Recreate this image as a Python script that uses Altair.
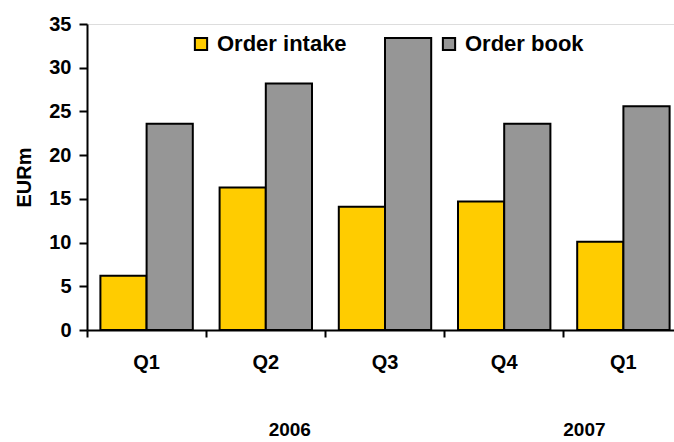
import altair as alt
import pandas as pd

quarters = ["Q1 2006", "Q2 2006", "Q3 2006", "Q4 2006", "Q1 2007"]
order_intake = [6.2, 16.3, 14.1, 14.7, 10.1]
order_book = [23.6, 28.2, 33.4, 23.6, 25.6]
series = ["Order intake", "Order book"]
colors = ["#FFCC00", "#969696"]
years = ["2006", "2007"]
year_anchor = ["Q2 2006", "Q1 2007"]
year_dx = [24, -39]

rows = []
for q, a, b in zip(quarters, order_intake, order_book):
    rows.append({"quarter": q, "series": series[0], "value": a})
    rows.append({"quarter": q, "series": series[1], "value": b})
df = pd.DataFrame(rows)
ydf = pd.DataFrame({"quarter": year_anchor, "year": years, "dx": year_dx})

FONT = "Liberation Sans"
W, H = 587, 306
xscale = alt.Scale(domain=quarters, range=[0, 596], paddingInner=0, paddingOuter=0)

bars = alt.Chart(df).mark_bar(stroke="black", strokeWidth=2).encode(
    x=alt.X("quarter:N", sort=quarters, scale=xscale,
            axis=alt.Axis(title=None, labelAngle=0, bandPosition=0,
                          labelExpr="split(datum.value, ' ')[0]",
                          tickSize=7, tickWidth=2, tickColor="black",
                          domainColor="black", domainWidth=2,
                          labelFont=FONT, labelFontSize=20, labelFontWeight="bold",
                          labelColor="black", labelPadding=15, grid=False)),
    xOffset=alt.XOffset("series:N", sort=series,
                        scale=alt.Scale(paddingInner=0, paddingOuter=0.29)),
    y=alt.Y("value:Q", scale=alt.Scale(domain=[0, 35], nice=False),
            axis=alt.Axis(title="EURm", values=list(range(0, 36, 5)),
                          tickSize=8, tickWidth=2, tickColor="black",
                          domainColor="black", domainWidth=2, grid=False,
                          labelFont=FONT, labelFontSize=20, labelFontWeight="bold",
                          labelColor="black", labelPadding=8,
                          titleFont=FONT, titleFontSize=20, titleFontWeight="bold",
                          titleColor="black", titlePadding=14)),
    color=alt.Color("series:N", sort=series,
                    scale=alt.Scale(domain=series, range=colors),
                    legend=alt.Legend(title=None, orient="none", legendX=103, legendY=9,
                                      direction="horizontal", columns=2,
                                      columnPadding=91, symbolType="square",
                                      symbolSize=150, symbolStrokeColor="black",
                                      symbolStrokeWidth=2, symbolOpacity=1,
                                      labelFont=FONT, labelFontSize=22,
                                      labelFontWeight="bold", labelColor="black",
                                      labelOffset=5)),
)

def year_label(i):
    return alt.Chart(ydf[ydf.year == years[i]]).mark_text(
        font=FONT, fontSize=19, fontWeight="bold", color="black",
        baseline="alphabetic", dx=year_dx[i]).encode(
        x=alt.X("quarter:N", sort=quarters, scale=xscale, bandPosition=0.5),
        y=alt.value(H + 106), text="year:N")

chart = alt.layer(bars, year_label(0), year_label(1)).properties(
    width=W, height=H,
    autosize=alt.AutoSizeParams(type="none"),
    padding={"left": 87, "top": 24, "right": 0, "bottom": 112},
).configure_view(stroke=None).configure(background="white")

chart.save("out.html", embed_options={"renderer": "svg", "actions": False})
